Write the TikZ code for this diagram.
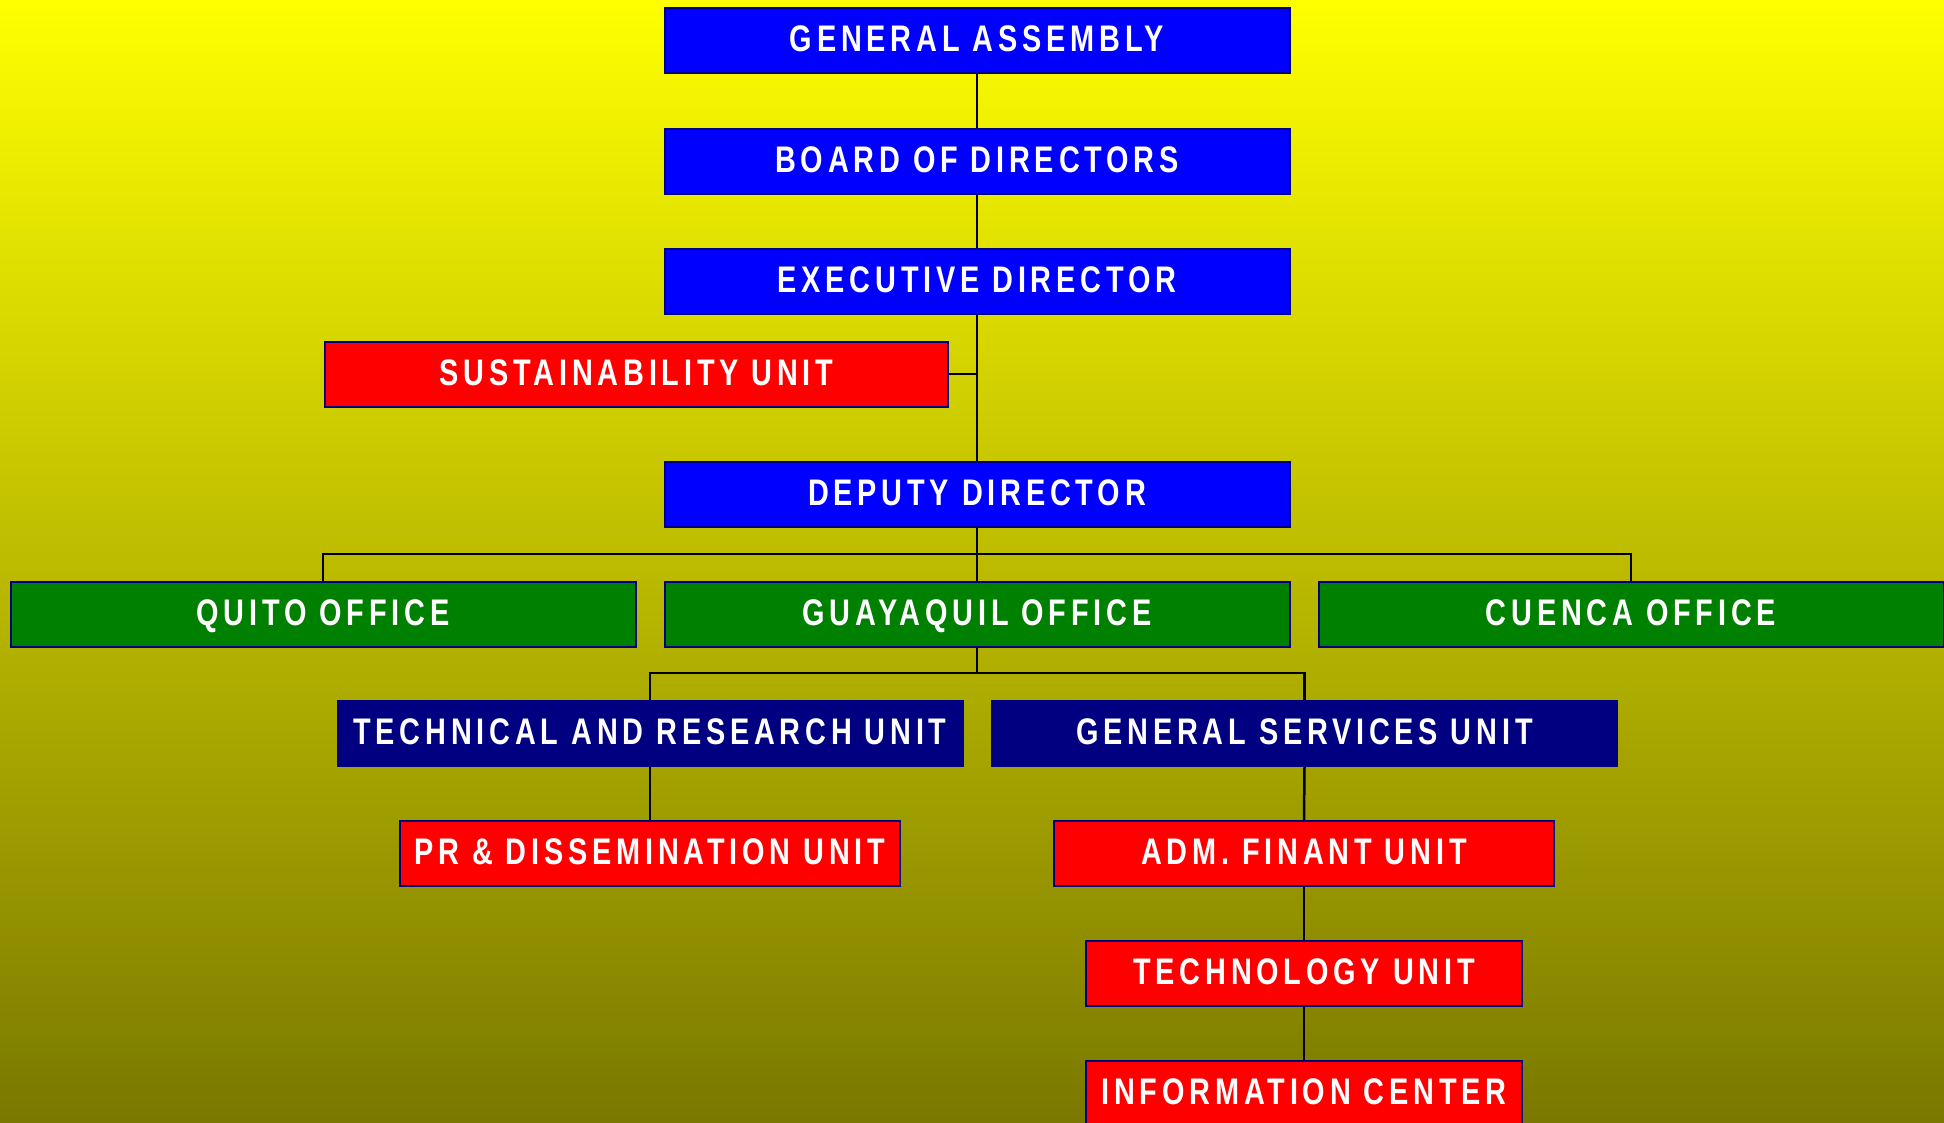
\documentclass[tikz,border=0pt]{standalone}
\usepackage{fontspec}
\newfontfamily\boxfont{Liberation Sans}[FakeStretch=0.78, LetterSpace=13]
\begin{document}
\begin{tikzpicture}[x=1pt,y=-1pt,
  box/.style={draw=navy, line width=2pt, inner sep=0pt,
    minimum height=65pt, text=white,
    font=\boxfont\bfseries\fontsize{37}{42}\selectfont,
    text height=25.5pt, text depth=3pt},
  bluebox/.style={box, fill=pureblue, minimum width=625pt},
  greenbox/.style={box, fill=officegreen, minimum width=625pt},
  navybox/.style={box, fill=navy, minimum width=625pt},
  redbox/.style={box, fill=purered},
  link/.style={draw=black, line width=2.5pt}]
\definecolor{navy}{HTML}{000080}
\definecolor{pureblue}{HTML}{0000FF}
\definecolor{purered}{HTML}{FF0000}
\definecolor{officegreen}{HTML}{008000}
\definecolor{bgtop}{HTML}{FFFF00}
\definecolor{bgmid}{HTML}{C8C800}
\definecolor{bgbot}{HTML}{7A7800}

% background
\useasboundingbox (0,0) rectangle (1944,1122);
\clip (0,0) rectangle (1944,1122);
\shade[top color=bgtop, middle color=bgmid, bottom color=bgbot] (0,0) rectangle (1944,1122);

% governing bodies
\node[bluebox] (ga)  at (977,40.7) {GENERAL ASSEMBLY};
\node[bluebox] (bod) at (977,161)  {BOARD OF DIRECTORS};
\node[bluebox] (ed)  at (977,281)  {EXECUTIVE DIRECTOR};
\node[redbox, minimum width=623pt] (sust) at (636.5,374) {SUSTAINABILITY UNIT};
\node[bluebox] (dep) at (977,494)  {DEPUTY DIRECTOR};

% offices
\node[greenbox] (quito)  at (323,614)  {QUITO OFFICE};
\node[greenbox] (guay)   at (977,614)  {GUAYAQUIL OFFICE};
\node[greenbox] (cuenca) at (1631,614) {CUENCA OFFICE};

% units
\node[navybox] (tech) at (650,733)    {TECHNICAL AND RESEARCH UNIT};
\node[navybox] (gsu)  at (1304.5,733) {GENERAL SERVICES UNIT};
\node[redbox, minimum width=500pt] (pr)  at (650,853.5)    {PR \& DISSEMINATION UNIT};
\node[redbox, minimum width=500pt] (adm) at (1304,853.5)   {ADM. FINANT UNIT};
\node[redbox, minimum width=436pt] (techu) at (1304,973.5) {TECHNOLOGY UNIT};
\node[redbox, minimum width=436pt] (info)  at (1304,1093.5) {INFORMATION CENTER};

% bus lines
\coordinate (bus1) at (977,554);
\coordinate (bus2) at (977,673);

% connectors
\draw[link] (ga.south) -- (bod.north);
\draw[link] (bod.south) -- (ed.north);
\draw[link] (ed.south) -- (dep.north);
\draw[link] (sust.east) -- (sust.east -| ed.south);
\draw[link] (dep.south) -- (guay.north);
\draw[link] (quito.north) -- (quito.north |- bus1) -- (cuenca.north |- bus1) -- (cuenca.north);
\draw[link] (guay.south) -- (bus2);
\draw[link] (tech.north) -- (tech.north |- bus2) -- (gsu.north |- bus2) -- (gsu.north);
\draw[link] (tech.south) -- (pr.north);
\draw[link] (gsu.south) -- (adm.north);
\draw[link] (adm.south) -- (techu.north);
\draw[link] (techu.south) -- (info.north);
\end{tikzpicture}
\end{document}
